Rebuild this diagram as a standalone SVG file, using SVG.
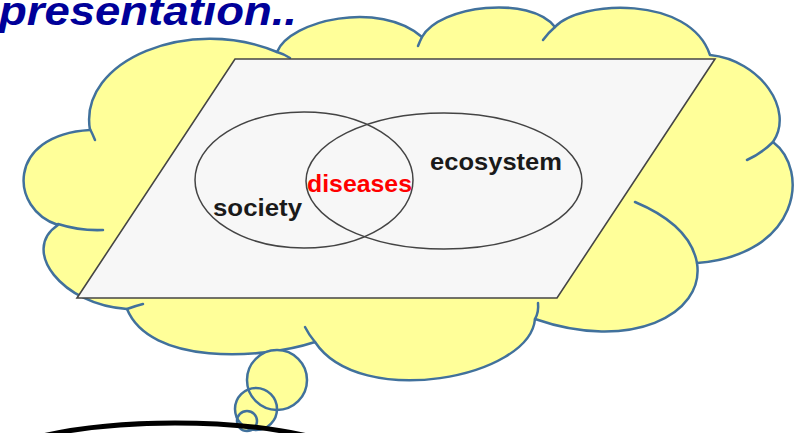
<svg xmlns="http://www.w3.org/2000/svg" width="808" height="433" viewBox="0 0 808 433">
  <style>
    .cloud { fill: #FFFF99; stroke: #41719C; stroke-width: 2.5; stroke-linejoin: round; }
    .tail { fill: none; stroke: #41719C; stroke-width: 2.5; stroke-linecap: round; }
    .bubble-fill { fill: #FFFF99; stroke: none; }
    .bubble-line { fill: none; stroke: #41719C; stroke-width: 2.5; }
    .plane { fill: #F7F7F7; stroke: #454545; stroke-width: 1.6; stroke-linejoin: miter; }
    .set { fill: none; stroke: #444444; stroke-width: 1.5; }
    .label { font-family: "Liberation Sans", Arial, sans-serif; font-weight: bold; font-size: 24px; }
    .dark { fill: #1A1A1A; }
    .red { fill: #FF0000; }
    .title { font-family: "Liberation Sans", Arial, sans-serif; font-weight: bold; font-style: italic; font-size: 40px; fill: #000099; }
  </style>

  <!-- heading, cut off at the top-left edge -->
  <g id="title">
    <text class="title" x="-1" y="25" textLength="298" lengthAdjust="spacingAndGlyphs">presentation..</text>
  </g>

  <!-- thought cloud -->
  <g id="cloud">
    <path class="cloud" d="M 90 130
      C 78 60, 190 15, 277 52
      C 290 20, 380 0, 422 37
      C 440 5, 530 -5, 555 27
      C 580 0, 690 -5, 710 55
      C 760 60, 795 110, 773 142
      C 810 170, 800 255, 697 263
      C 705 315, 630 352, 535 319
      C 530 378, 360 410, 315 342
      C 260 360, 150 365, 127 309
      C 62 305, 20 250, 58 225
      C 10 210, 5 135, 90 130 Z"/>
    <path class="tail" d="M 90 129 Q 93 135 95 140"/>
    <path class="tail" d="M 277 52 Q 284 54 290 58"/>
    <path class="tail" d="M 422 37 Q 420 41 418 46"/>
    <path class="tail" d="M 555 27 Q 548 33 543 40"/>
    <path class="tail" d="M 773 142 Q 762 153 747 160"/>
    <path class="tail" d="M 635 202 Q 690 225 697 263"/>
    <path class="tail" d="M 538 303 Q 539 312 535 319"/>
    <path class="tail" d="M 315 342 Q 309 335 305 327"/>
    <path class="tail" d="M 127 309 Q 135 306 143 304"/>
    <path class="tail" d="M 58 224 Q 80 231 103 230"/>
  </g>

  <!-- tilted plane holding the sets -->
  <g id="plane">
    <polygon class="plane" points="235,59 715,59 557,298 77,298"/>
  </g>

  <g id="society">
    <ellipse class="set" cx="304" cy="180" rx="109" ry="68"/>
    <text class="label dark" x="213" y="216" textLength="89" lengthAdjust="spacingAndGlyphs">society</text>
  </g>

  <g id="ecosystem">
    <ellipse class="set" cx="444" cy="181" rx="138" ry="68"/>
    <text class="label dark" x="430" y="170" textLength="132" lengthAdjust="spacingAndGlyphs">ecosystem</text>
  </g>

  <g id="diseases">
    <text class="label red" x="307" y="192" textLength="105" lengthAdjust="spacingAndGlyphs">diseases</text>
  </g>

  <!-- trail of small bubbles below the cloud -->
  <g id="bubbles">
    <circle class="bubble-fill" cx="277" cy="380" r="30"/>
    <circle class="bubble-fill" cx="256" cy="409" r="21"/>
    <circle class="bubble-fill" cx="247" cy="421" r="10"/>
    <circle class="bubble-line" cx="277" cy="380" r="30"/>
    <circle class="bubble-line" cx="256" cy="409" r="21"/>
    <circle class="bubble-line" cx="247" cy="421" r="10"/>
  </g>

  <!-- top of the thinker's head -->
  <g id="head">
    <path d="M 40 436.6 A 200 52 0 0 1 310 436.6" fill="none" stroke="#000000" stroke-width="5"/>
  </g>
</svg>
